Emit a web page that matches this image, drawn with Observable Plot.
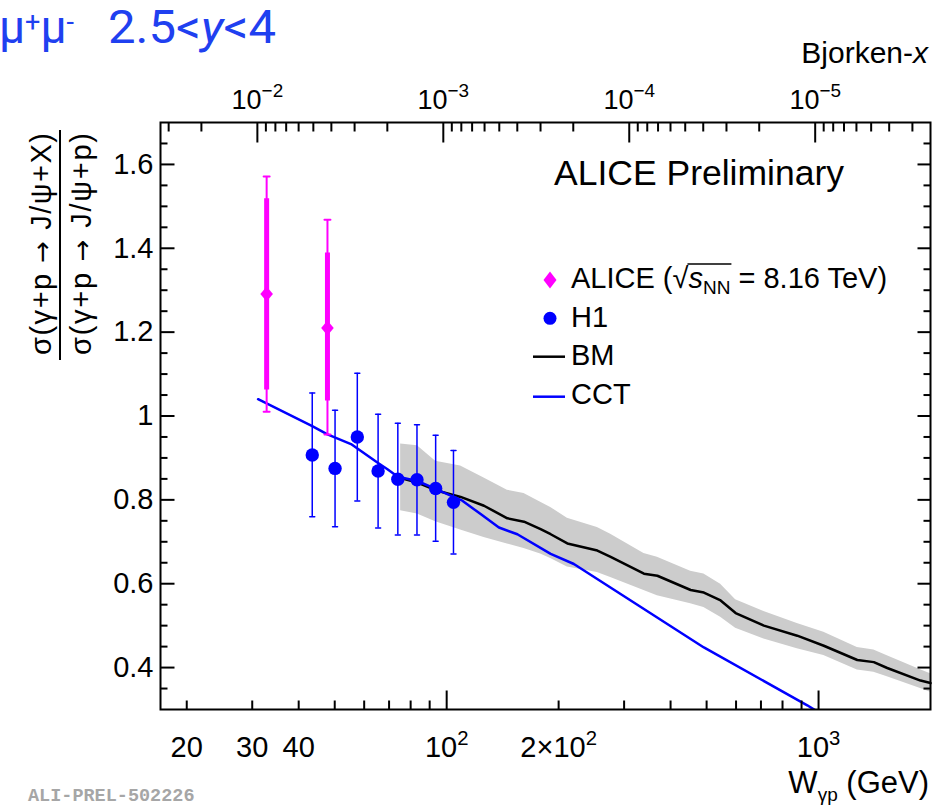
<!DOCTYPE html>
<html>
<head>
<meta charset="utf-8">
<script src="https://cdn.jsdelivr.net/npm/d3@7"></script>
<script src="https://cdn.jsdelivr.net/npm/@observablehq/plot@0.6"></script>
<style>
html, body { margin: 0; padding: 0; background: #fff; }
#wrap { position: relative; width: 945px; height: 806px; overflow: hidden; }
#wrap svg { position: absolute; left: 0; top: 0; }
</style>
</head>
<body>
<div id="wrap"></div>
<script>
const FONT = "'Liberation Sans', Arial, Helvetica, sans-serif";
const BLUE = "#0000ff", MAGENTA = "#ff00ff", BAND = "#cccccc", TITLE_BLUE = "#1f40f0";
const MJPSI = 3.097; // GeV, used to convert Bjorken-x to W for the top axis

// ---- ALICE (magenta diamonds) ----
const aliceW      = [32.8, 47.8];
const aliceRatio  = [1.291, 1.210];
const aliceStatLo = [1.062, 1.036];
const aliceStatHi = [1.518, 1.389];
const aliceTotLo  = [1.010, 0.956];
const aliceTotHi  = [1.571, 1.468];

// ---- H1 (blue circles) ----
const h1W     = [43.5, 50.1, 57.5, 65.4, 73.9, 83.2, 93.4, 104.3];
const h1Ratio = [0.907, 0.875, 0.950, 0.869, 0.849, 0.848, 0.827, 0.794];
const h1Lo    = [0.760, 0.736, 0.797, 0.733, 0.716, 0.716, 0.701, 0.671];
const h1Hi    = [1.055, 1.014, 1.102, 1.004, 0.983, 0.979, 0.954, 0.918];

// ---- CCT model (blue line) ----
const cctW     = [31.1, 43.5, 47.8, 55.3, 65.1, 69.3, 73.9, 83.4, 93.4, 102.5, 110.2, 123.4, 138.2, 154.9, 190.4, 219.8, 491.6, 932.4, 985];
const cctRatio = [1.040, 0.976, 0.956, 0.933, 0.889, 0.873, 0.855, 0.845, 0.826, 0.810, 0.798, 0.766, 0.734, 0.718, 0.671, 0.647, 0.448, 0.310, 0.297];

// ---- BM model (black line + grey band) ----
const bmW     = [75.2, 83.4, 93.4, 109.0, 126.0, 145.6, 161.4, 178.9, 190.4, 211.1, 254.2, 276.0, 339.2, 368.6, 452.9, 491.6, 545.3, 598.4, 712.9, 876.3, 1033, 1271, 1408, 1530, 1880, 2000];
const bmRatio = [0.852, 0.841, 0.823, 0.807, 0.786, 0.756, 0.748, 0.730, 0.718, 0.696, 0.679, 0.664, 0.624, 0.619, 0.585, 0.579, 0.560, 0.530, 0.500, 0.476, 0.452, 0.418, 0.413, 0.399, 0.369, 0.363];
const bmLo    = [0.774, 0.766, 0.748, 0.728, 0.710, 0.695, 0.684, 0.671, 0.660, 0.640, 0.627, 0.615, 0.584, 0.571, 0.552, 0.543, 0.520, 0.494, 0.468, 0.445, 0.429, 0.394, 0.389, 0.378, 0.350, 0.341];
const bmHi    = [0.933, 0.929, 0.892, 0.881, 0.852, 0.823, 0.815, 0.794, 0.782, 0.756, 0.734, 0.718, 0.672, 0.663, 0.630, 0.623, 0.599, 0.562, 0.534, 0.505, 0.484, 0.448, 0.442, 0.428, 0.395, 0.385];

// ---- Axis ticks and labels ----
const xLabelTicks = [20, 30, 40, 100, 200, 1000];
const xLabels     = ["20", "30", "40", "10²", "2×10²", "10³"];
const xMajorTicks = [100, 1000];
const xMinorTicks = [20, 30, 40, 50, 60, 70, 80, 90, 200, 300, 400, 500, 600, 700, 800, 900];
const yMajorTicks = [0.4, 0.6, 0.8, 1.0, 1.2, 1.4, 1.6];
const yLabels     = ["0.4", "0.6", "0.8", "1", "1.2", "1.4", "1.6"];
const yMinorTicks = [0.35, 0.45, 0.5, 0.55, 0.65, 0.7, 0.75, 0.85, 0.9, 0.95, 1.05, 1.1, 1.15, 1.25, 1.3, 1.35, 1.45, 1.5, 1.55, 1.65];
const bjMajor     = [1e-2, 1e-3, 1e-4, 1e-5];
const bjLabels    = ["10⁻²", "10⁻³", "10⁻⁴", "10⁻⁵"];
const bjMinor     = [3e-2, 2e-2,
  9e-3, 8e-3, 7e-3, 6e-3, 5e-3, 4e-3, 3e-3, 2e-3,
  9e-4, 8e-4, 7e-4, 6e-4, 5e-4, 4e-4, 3e-4, 2e-4,
  9e-5, 8e-5, 7e-5, 6e-5, 5e-5, 4e-5, 3e-5, 2e-5,
  9e-6, 8e-6, 7e-6, 6e-6, 5e-6, 4e-6, 3e-6];
const bjToW = xb => MJPSI / Math.sqrt(xb);
const bjMajorW = bjMajor.map(bjToW);

// label lookup by nearest tick value (robust to how the axis calls the formatter)
const labelFor = (ticks, labels, log) => d =>
  labels[d3.minIndex(ticks, t => Math.abs(log ? Math.log(t) - Math.log(+d) : t - +d))];

// ---- Tables ----
const alice = aliceW.map((W, i) => ({W, r: aliceRatio[i], sLo: aliceStatLo[i], sHi: aliceStatHi[i], tLo: aliceTotLo[i], tHi: aliceTotHi[i]}));
const h1 = h1W.map((W, i) => ({W, r: h1Ratio[i], lo: h1Lo[i], hi: h1Hi[i]}));
const cct = cctW.map((W, i) => ({W, r: cctRatio[i]}));
const bm = bmW.map((W, i) => ({W, r: bmRatio[i], lo: bmLo[i], hi: bmHi[i]}));

// shapes
const lineShape = {draw(ctx, l) { ctx.moveTo(0, 0); ctx.lineTo(0, -l); }};
const diamondSym = {draw(ctx, size) {
  const r = Math.sqrt(size / Math.PI);
  ctx.moveTo(0, -r * 1.15); ctx.lineTo(r * 0.97, 0); ctx.lineTo(0, r * 1.15); ctx.lineTo(-r * 0.97, 0); ctx.closePath();
}};

const tk = (fn, data, opts) => fn(data, {anchor: "start", shape: lineShape, stroke: "black", strokeWidth: 2, strokeLinecap: "butt", ...opts});

const chart = Plot.plot({
  width: 945,
  height: 806,
  marginLeft: 160,
  marginRight: 15,
  marginTop: 122,
  marginBottom: 97,
  style: {fontFamily: FONT, fontSize: "29px", color: "black", background: "transparent", overflow: "visible"},
  x: {type: "log", domain: [17, 2000]},
  y: {domain: [0.3, 1.7]},
  marks: [
    // BM band + line
    Plot.areaY(bm, {x: "W", y1: "lo", y2: "hi", fill: BAND}),
    Plot.line(bm, {x: "W", y: "r", stroke: "black", strokeWidth: 2.5}),
    // CCT line
    Plot.line(cct, {x: "W", y: "r", stroke: BLUE, strokeWidth: 2.5, clip: true}),
    // H1 points with error bars
    Plot.ruleX(h1, {x: "W", y1: "lo", y2: "hi", stroke: BLUE, strokeWidth: 1.5}),
    Plot.vector(h1, {x: "W", y: "lo", length: 5, rotate: 90, anchor: "middle", shape: lineShape, stroke: BLUE, strokeWidth: 1.5}),
    Plot.vector(h1, {x: "W", y: "hi", length: 5, rotate: 90, anchor: "middle", shape: lineShape, stroke: BLUE, strokeWidth: 1.5}),
    Plot.dot(h1, {x: "W", y: "r", r: 6.7, fill: BLUE, stroke: "none"}),
    // ALICE points
    Plot.ruleX(alice, {x: "W", y1: "tLo", y2: "tHi", stroke: MAGENTA, strokeWidth: 2}),
    Plot.vector(alice, {x: "W", y: "tLo", length: 6, rotate: 90, anchor: "middle", shape: lineShape, stroke: MAGENTA, strokeWidth: 2}),
    Plot.vector(alice, {x: "W", y: "tHi", length: 6, rotate: 90, anchor: "middle", shape: lineShape, stroke: MAGENTA, strokeWidth: 2}),
    Plot.ruleX(alice, {x: "W", y1: "sLo", y2: "sHi", stroke: MAGENTA, strokeWidth: 5}),
    Plot.dot(alice, {x: "W", y: "r", r: 6.5, symbol: diamondSym, fill: MAGENTA, stroke: "none"}),
    // frame
    Plot.frame({stroke: "black", strokeWidth: 2}),
    // inward ticks: bottom
    tk(Plot.vectorX, xMajorTicks, {frameAnchor: "bottom", rotate: 0, length: 19}),
    tk(Plot.vectorX, xMinorTicks, {frameAnchor: "bottom", rotate: 0, length: 9}),
    // top (Bjorken-x)
    tk(Plot.vectorX, bjMajorW, {frameAnchor: "top", rotate: 180, length: 20}),
    tk(Plot.vectorX, bjMinor.map(bjToW), {frameAnchor: "top", rotate: 180, length: 9}),
    // left
    tk(Plot.vectorY, yMajorTicks, {frameAnchor: "left", rotate: 90, length: 14}),
    tk(Plot.vectorY, yMinorTicks, {frameAnchor: "left", rotate: 90, length: 7}),
    // right
    tk(Plot.vectorY, yMajorTicks, {frameAnchor: "right", rotate: 270, length: 13}),
    tk(Plot.vectorY, yMinorTicks, {frameAnchor: "right", rotate: 270, length: 7}),
    // tick labels
    Plot.axisX(xLabelTicks, {anchor: "bottom", tickSize: 0, tickPadding: 27, tickFormat: labelFor(xLabelTicks, xLabels, true), label: null, fontSize: 29, fill: "black"}),
    Plot.axisX(bjMajorW, {anchor: "top", tickSize: 0, tickPadding: 14, tickFormat: labelFor(bjMajorW, bjLabels, true), label: null, fontSize: 27, fill: "black"}),
    Plot.axisY(yMajorTicks, {anchor: "left", tickSize: 0, tickPadding: 7, tickFormat: labelFor(yMajorTicks, yLabels, false), label: null, fontSize: 29, fill: "black"})
  ]
});

const wrap = document.getElementById("wrap");
wrap.appendChild(chart);

// Render superscript exponents of the tick labels with larger, raised tspans (ROOT style)
const supChars = {"⁻": "−", "²": "2", "³": "3", "⁴": "4", "⁵": "5"};
chart.querySelectorAll("text").forEach(el => {
  const s = el.textContent;
  const m = s.match(/^(.*?)([⁻²³⁴⁵]+)$/);
  if (!m) return;
  const fs = parseFloat(getComputedStyle(el).fontSize) || 28;
  el.textContent = m[1];
  const sp = document.createElementNS("http://www.w3.org/2000/svg", "tspan");
  sp.setAttribute("font-size", (fs * 0.7).toFixed(1));
  sp.setAttribute("dy", (-fs * 0.42).toFixed(1));
  sp.textContent = [...m[2]].map(c => supChars[c]).join("");
  el.appendChild(sp);
});

// ---- Overlay text: title, axis titles, legend, annotations ----
const ov = d3.select(wrap).append("svg")
  .attr("width", 945).attr("height", 806)
  .style("font-family", FONT);

// Top-left title
const t1 = ov.append("text").attr("x", -1).attr("y", 42.7)
  .attr("fill", TITLE_BLUE).style("font-family", "Roboto, 'Open Sans', sans-serif").attr("font-size", 46);
t1.append("tspan").text("μ");
t1.append("tspan").attr("font-size", 27).attr("dy", -12).text("+");
t1.append("tspan").attr("dy", 12).text("μ");
t1.append("tspan").attr("font-size", 27).attr("dy", -12).text("-");
const t2 = ov.append("text").attr("x", 108).attr("y", 42.7)
  .attr("fill", TITLE_BLUE).style("font-family", "Roboto, 'Open Sans', sans-serif").attr("font-size", 46)
  .attr("textLength", 168).attr("lengthAdjust", "spacingAndGlyphs");
t2.append("tspan").text("2.5<");
t2.append("tspan").attr("font-style", "italic").text("y");
t2.append("tspan").text("<4");

// Bjorken-x axis title
const bj = ov.append("text").attr("x", 928).attr("y", 63).attr("text-anchor", "end").attr("font-size", 30);
bj.append("tspan").text("Bjorken-");
bj.append("tspan").attr("font-style", "italic").text("x");

// W axis title
const wt = ov.append("text").attr("x", 929).attr("y", 793).attr("text-anchor", "end").attr("font-size", 31);
wt.append("tspan").text("W");
wt.append("tspan").attr("font-size", 19).attr("dy", 8).text("γp");
wt.append("tspan").attr("dy", -8).text(" (GeV)");

// Y axis title as a fraction
function fracLine(tx, before, after) {
  const t = ov.append("text").attr("transform", `translate(${tx},244) rotate(-90)`).attr("text-anchor", "middle")
    .attr("font-size", 29).attr("textLength", 222).attr("lengthAdjust", "spacing");
  t.append("tspan").text(before);
  t.append("tspan").style("font-family", "'DejaVu Sans', sans-serif").attr("font-size", 26).text("→");
  t.append("tspan").text(after);
}
fracLine(50.5, "σ(γ+p ", " J/ψ+X)");
ov.append("line").attr("x1", 60).attr("x2", 60).attr("y1", 130).attr("y2", 360).attr("stroke", "black").attr("stroke-width", 2);
fracLine(90.5, "σ(γ+p ", " J/ψ+p)");

// ALICE Preliminary
ov.append("text").attr("x", 554).attr("y", 185).attr("font-size", 35.5).text("ALICE Preliminary");

// Legend
ov.append("path").attr("d", "M550,271.5 L556.5,280 L550,288.5 L543.5,280 Z").attr("fill", MAGENTA);
const lt = ov.append("text").attr("x", 571).attr("y", 288).attr("font-size", 29);
lt.append("tspan").text("ALICE (√");
lt.append("tspan").attr("font-style", "italic").text("s");
lt.append("tspan").attr("font-size", 19).attr("dy", 6).text("NN");
lt.append("tspan").attr("dy", -6).text(" = 8.16 TeV)");
{
  const n = lt.node();
  try {
    const xa = n.getEndPositionOfChar(7).x;
    const xb = n.getEndPositionOfChar(10).x;
    ov.append("line").attr("x1", xa - 1).attr("x2", xb + 1).attr("y1", 264).attr("y2", 264)
      .attr("stroke", "black").attr("stroke-width", 1.5);
  } catch (e) {}
}
ov.append("circle").attr("cx", 550).attr("cy", 318.3).attr("r", 6.5).attr("fill", BLUE);
ov.append("text").attr("x", 571).attr("y", 327).attr("font-size", 29).text("H1");
ov.append("line").attr("x1", 533).attr("x2", 565).attr("y1", 356.7).attr("y2", 356.7).attr("stroke", "black").attr("stroke-width", 2.5);
ov.append("text").attr("x", 571).attr("y", 365).attr("font-size", 29).text("BM");
ov.append("line").attr("x1", 533).attr("x2", 565).attr("y1", 396.7).attr("y2", 396.7).attr("stroke", BLUE).attr("stroke-width", 2.5);
ov.append("text").attr("x", 571).attr("y", 403.5).attr("font-size", 29).text("CCT");

// Preliminary ID
ov.append("text").attr("x", 28).attr("y", 801).attr("font-size", 18.5)
  .style("font-family", "'Liberation Mono', 'DejaVu Sans Mono', monospace").attr("font-weight", "bold")
  .attr("fill", "#a6a6a6").text("ALI-PREL-502226");
</script>
</body>
</html>
